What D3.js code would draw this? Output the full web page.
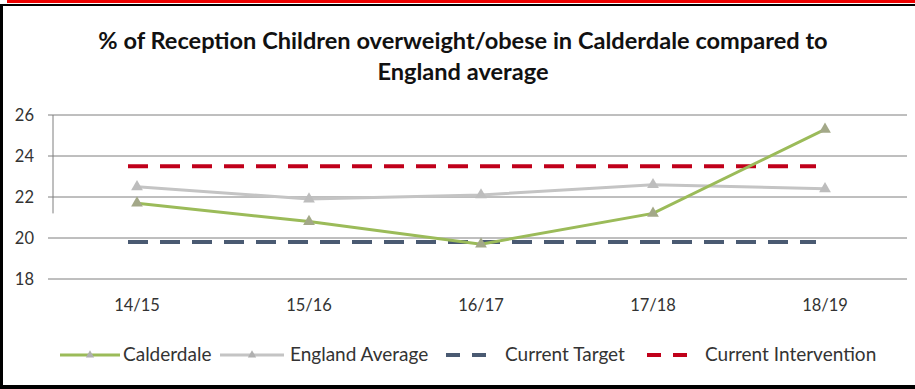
<!DOCTYPE html>
<html>
<head>
<meta charset="utf-8">
<script src="https://cdn.jsdelivr.net/npm/d3@7"></script>
<style>
  body { margin: 0; background: #fff; }
  svg { display: block; font-family: Lato, "Open Sans", sans-serif; }
</style>
</head>
<body>
<div id="chart"></div>
<script>
// data
var years = ['14/15', '15/16', '16/17', '17/18', '18/19'];
var calderdale = [21.7, 20.8, 19.7, 21.2, 25.3];
var england = [22.5, 21.9, 22.1, 22.6, 22.4];
var target = [19.8, 19.8, 19.8, 19.8, 19.8];
var intervention = [23.5, 23.5, 23.5, 23.5, 23.5];
var yTicks = [18, 20, 22, 24, 26];

let w = 915;
let h = 389;

let svg = d3.select('#chart')
  .append('svg')
  .attr('width', w)
  .attr('height', h)

// frame
svg.append('rect').attr('x', 7).attr('y', 0).attr('width', w - 7).attr('height', 3).attr('fill', '#ee0000')
svg.append('rect').attr('x', 0).attr('y', 4).attr('width', w).attr('height', 2).attr('fill', '#000')
svg.append('rect').attr('x', 0).attr('y', 4).attr('width', 3).attr('height', h - 4).attr('fill', '#000')
svg.append('rect').attr('x', 0).attr('y', h - 4).attr('width', w).attr('height', 4).attr('fill', '#000')

// title
svg.append('text')
  .attr('x', 463).attr('y', 49)
  .attr('text-anchor', 'middle')
  .style('font-size', '23.6px').style('font-weight', 'bold').attr('fill', '#111')
  .text('% of Reception Children overweight/obese in Calderdale compared to')
svg.append('text')
  .attr('x', 463).attr('y', 80)
  .attr('text-anchor', 'middle')
  .style('font-size', '23.6px').style('font-weight', 'bold').attr('fill', '#111')
  .text('England average')

var x = d3.scaleBand().domain(years).range([51, 911]).padding(0)
var y = d3.scaleLinear().domain([18, 26]).range([279, 115])
var cx = function(d, i) { return x(years[i]) + x.bandwidth() / 2; }

// gridlines
svg.append('g')
  .selectAll('line')
  .data(yTicks)
  .join('line')
  .attr('x1', 48).attr('x2', 907)
  .attr('y1', d => y(d)).attr('y2', d => y(d))
  .attr('stroke', '#7f7f7f').attr('stroke-width', 1)

// partial vertical axis line
svg.append('line')
  .attr('x1', 53).attr('x2', 53)
  .attr('y1', y(26)).attr('y2', y(21.2))
  .attr('stroke', '#7f7f7f')

// y labels
let yAxis = svg.append('g')
  .attr('transform', 'translate(34,0)')
  .call(d3.axisLeft(y).tickValues(yTicks).tickSize(0).tickPadding(0).tickFormat(d3.format('d')))
yAxis.select('.domain').remove()
yAxis.selectAll('text').style('font-size', '16.5px').style('font-family', 'Lato, sans-serif').attr('fill', '#333')

// x labels
let xAxis = svg.append('g')
  .attr('transform', 'translate(0,299)')
  .call(d3.axisBottom(x).tickSize(0).tickPadding(0))
xAxis.select('.domain').remove()
xAxis.selectAll('text').style('font-size', '16.5px').style('font-family', 'Lato, sans-serif').attr('fill', '#333')

var line = d3.line()
  .x(cx)
  .y(function(d) { return y(d); })

// reference lines
svg.append('path').datum(target)
  .attr('d', line).attr('fill', 'none')
  .attr('stroke', '#4a5a72').attr('stroke-width', 4)
  .attr('stroke-dasharray', '20,12')
  .attr('transform', 'translate(-9,0)')
svg.append('path').datum(intervention)
  .attr('d', line).attr('fill', 'none')
  .attr('stroke', '#c0001a').attr('stroke-width', 4)
  .attr('stroke-dasharray', '20,12')
  .attr('transform', 'translate(-9,0)')

// series lines
svg.append('path').datum(england)
  .attr('d', line).attr('fill', 'none')
  .attr('stroke', '#c4c4c4').attr('stroke-width', 3)
svg.append('path').datum(calderdale)
  .attr('d', line).attr('fill', 'none')
  .attr('stroke', '#9bbb59').attr('stroke-width', 3)

var tri = d3.symbol().type(d3.symbolTriangle).size(60)
svg.append('g').selectAll('path')
  .data(england)
  .join('path')
  .attr('transform', (d, i) => 'translate(' + cx(d, i) + ',' + y(d) + ')')
  .attr('d', tri)
  .attr('fill', '#bdbdbd')
svg.append('g').selectAll('path')
  .data(calderdale)
  .join('path')
  .attr('transform', (d, i) => 'translate(' + cx(d, i) + ',' + y(d) + ')')
  .attr('d', tri)
  .attr('fill', '#a3a888')

// legend
var legend = [
  {name: 'Calderdale', color: '#9bbb59', dash: null, marker: true, x1: 60, x2: 120, tx: 123},
  {name: 'England Average', color: '#c4c4c4', dash: null, marker: true, x1: 220, x2: 284, tx: 290},
  {name: 'Current Target', color: '#4a5a72', dash: '14,12', marker: false, x1: 446, x2: 496, tx: 505},
  {name: 'Current Intervention', color: '#c0001a', dash: '14,12', marker: false, x1: 647, x2: 697, tx: 705}
]
let lg = svg.append('g').selectAll('g')
  .data(legend)
  .join('g')
lg.append('line')
  .attr('x1', d => d.x1).attr('x2', d => d.x2)
  .attr('y1', 355).attr('y2', 355)
  .attr('stroke', d => d.color)
  .attr('stroke-width', d => d.dash ? 4 : 3)
  .attr('stroke-dasharray', d => d.dash)
lg.filter(d => d.marker).append('path')
  .attr('transform', d => 'translate(' + ((d.x1 + d.x2) / 2) + ',355)')
  .attr('d', d3.symbol().type(d3.symbolTriangle).size(30))
  .attr('fill', '#b0b0b0')
lg.append('text')
  .attr('x', d => d.tx).attr('y', 361)
  .style('font-size', '19px').attr('fill', '#333')
  .text(d => d.name)
</script>
</body>
</html>
